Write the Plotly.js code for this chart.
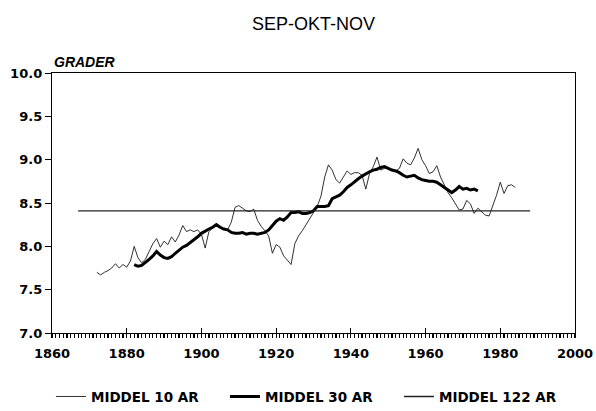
<!DOCTYPE html>
<html>
<head>
<meta charset="utf-8">
<script src="https://cdn.plot.ly/plotly-3.0.1.min.js"></script>
<style>html,body{margin:0;padding:0;background:#fff;}#chart{width:596px;height:411px;}</style>
</head>
<body>
<div id="chart"></div>
<script>
// 10-year running mean, yearly from 1872 to 1984
const start10 = 1872;
const mean10 = [
  7.70, 7.67, 7.70, 7.72, 7.75, 7.80, 7.75, 7.79, 7.76, 7.83,
  8.00, 7.87, 7.81, 7.85, 7.94, 8.03, 8.09, 7.99, 8.06, 8.02,
  8.11, 8.05, 8.13, 8.24, 8.17, 8.19, 8.17, 8.19, 8.14, 7.98,
  8.17, 8.21, 8.25, 8.23, 8.20, 8.19, 8.28, 8.45, 8.47, 8.44,
  8.41, 8.40, 8.43, 8.30, 8.23, 8.18, 8.12, 7.92, 8.02, 7.99,
  7.89, 7.84, 7.79, 8.03, 8.12, 8.18, 8.25, 8.32, 8.38, 8.46,
  8.58, 8.80, 8.94, 8.88, 8.77, 8.73, 8.80, 8.87, 8.83, 8.85,
  8.85, 8.82, 8.66, 8.84, 8.92, 9.03, 8.88, 8.90, 8.90, 8.88,
  8.87, 8.90, 9.01, 8.96, 8.94, 9.02, 9.13, 9.00, 8.93, 8.84,
  8.86, 8.93, 8.80, 8.70, 8.62, 8.56, 8.49, 8.42, 8.43, 8.53,
  8.49, 8.38, 8.44, 8.40, 8.36, 8.35, 8.46, 8.59, 8.74, 8.61,
  8.70, 8.71, 8.68
];
// 30-year running mean, yearly from 1882 to 1974
const start30 = 1882;
const mean30 = [
  7.79, 7.77, 7.78, 7.81, 7.85, 7.89, 7.94, 7.90, 7.87, 7.86,
  7.88, 7.92, 7.96, 7.99, 8.01, 8.04, 8.07, 8.11, 8.15, 8.18,
  8.20, 8.22, 8.25, 8.22, 8.20, 8.19, 8.16, 8.15, 8.15, 8.16,
  8.14, 8.15, 8.15, 8.14, 8.15, 8.16, 8.19, 8.24, 8.29, 8.32,
  8.30, 8.34, 8.39, 8.39, 8.40, 8.38, 8.38, 8.39, 8.41, 8.46,
  8.46, 8.46, 8.47, 8.55, 8.57, 8.59, 8.63, 8.68, 8.71, 8.75,
  8.78, 8.81, 8.84, 8.86, 8.88, 8.89, 8.91, 8.92, 8.90, 8.88,
  8.87, 8.85, 8.82, 8.80, 8.81, 8.82, 8.79, 8.77, 8.76, 8.75,
  8.75, 8.74, 8.71, 8.68, 8.66, 8.62, 8.65, 8.69, 8.66, 8.67,
  8.65, 8.66, 8.64
];
// 122-year mean (1867-1988)
const years122 = [1867, 1988];
const mean122 = [8.41, 8.41];

const seriesNames = ["MIDDEL 10 AR", "MIDDEL 30 AR", "MIDDEL 122 AR"];

const years10 = mean10.map((_, i) => start10 + i);
const years30 = mean30.map((_, i) => start30 + i);

const FONT = "DejaVu Sans, Liberation Sans, Arial, sans-serif";
const XRANGE = [1860, 2000];

const traces = [
  {x: years10, y: mean10, name: seriesNames[0], mode: "lines",
   line: {color: "#1a1a1a", width: 0.9}},
  {x: years30, y: mean30, name: seriesNames[1], mode: "lines",
   line: {color: "#000", width: 3}},
  {x: years122, y: mean122, name: seriesNames[2], mode: "lines", xaxis: "x2",
   line: {color: "#222", width: 1.3}}
];

const layout = {
  width: 596, height: 411,
  margin: {l: 52, r: 21, t: 73, b: 78, autoexpand: false},
  paper_bgcolor: "#fff", plot_bgcolor: "#fff",
  title: {text: "SEP-OKT-NOV", font: {family: "Liberation Sans, Arial, sans-serif", size: 18, color: "#000"},
          xref: "paper", x: 0.5, xanchor: "center", yref: "container", y: 0.943, yanchor: "middle"},
  xaxis: {range: XRANGE, tickmode: "linear", tick0: 1860, dtick: 20,
          ticks: "inside", ticklen: 5, tickwidth: 1.2, tickcolor: "#000",
          ticklabelstandoff: 8,
          showline: true, linecolor: "#000", linewidth: 1.2, mirror: true,
          showgrid: false, zeroline: false, fixedrange: true,
          tickfont: {family: FONT, size: 13, color: "#000", weight: "bold"}},
  // yearly comb of small ticks below the bottom axis
  xaxis2: {range: XRANGE, overlaying: "x", anchor: "y", side: "bottom",
           tickmode: "linear", tick0: 1860, dtick: 1,
           ticks: "outside", ticklen: 4, tickwidth: 1.2, tickcolor: "#000",
           showticklabels: false, showline: false, showgrid: false, zeroline: false, fixedrange: true},
  yaxis: {range: [7, 10], tickmode: "linear", tick0: 7, dtick: 0.5, tickformat: ".1f",
          ticks: "outside", ticklen: 6, tickwidth: 1, tickcolor: "#000",
          showline: true, linecolor: "#000", linewidth: 1.2, mirror: true,
          showgrid: false, zeroline: false, fixedrange: true,
          tickfont: {family: FONT, size: 13, color: "#000", weight: "bold"}},
  showlegend: true,
  legend: {orientation: "h", x: -0.002, xanchor: "left", y: -0.245, yanchor: "middle",
           font: {family: FONT, size: 13.5, color: "#000", weight: "bold"},
           itemwidth: 30, entrywidth: 129, entrywidthmode: "pixels",
           bgcolor: "rgba(0,0,0,0)"},
  annotations: [
    {text: "<b><i>GRADER</i></b>", xref: "paper", yref: "paper", x: 0, y: 1,
     xanchor: "left", yanchor: "bottom", yshift: 1, showarrow: false,
     font: {family: "Liberation Sans, Arial, sans-serif", size: 14, color: "#000"}}
  ]
};

Plotly.newPlot("chart", traces, layout, {staticPlot: true, displayModeBar: false});
</script>
</body>
</html>
